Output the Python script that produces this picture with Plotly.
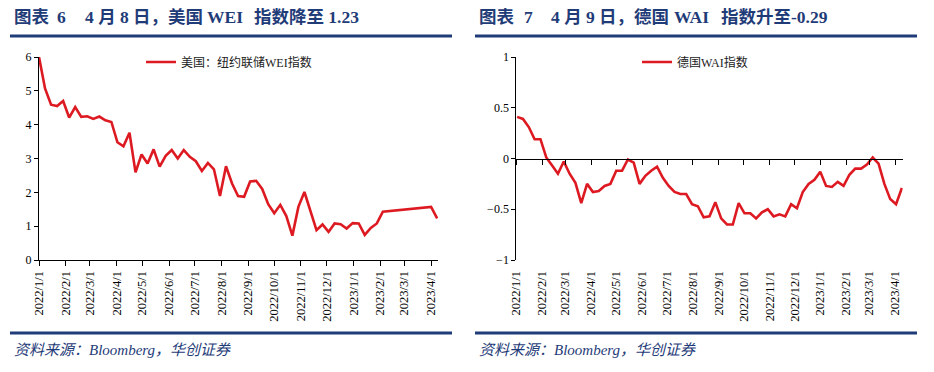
import plotly.graph_objects as go
import pandas as pd

# ---- data ----
us_dates = pd.date_range('2022-01-01', '2023-02-04', freq='7D').strftime('%Y-%m-%d').tolist() + ['2023-04-01', '2023-04-08']
us_wei = [6.0, 5.07, 4.59, 4.55, 4.70, 4.21, 4.52, 4.23, 4.25, 4.17, 4.24, 4.13, 4.08, 3.48, 3.36, 3.76,
          2.59, 3.12, 2.85, 3.27, 2.76, 3.08, 3.25, 3.00, 3.25, 3.05, 2.92, 2.63, 2.87, 2.68, 1.89, 2.77,
          2.26, 1.89, 1.87, 2.32, 2.34, 2.10, 1.65, 1.38, 1.63, 1.30, 0.72, 1.57, 2.01, 1.43, 0.88, 1.05,
          0.83, 1.08, 1.06, 0.93, 1.09, 1.08, 0.74, 0.95, 1.08, 1.43, 1.57, 1.23]

de_dates = pd.date_range('2022-01-02', '2023-04-09', freq='7D').strftime('%Y-%m-%d').tolist()
de_wai = [0.41, 0.39, 0.31, 0.19, 0.19, 0.01, -0.07, -0.15, -0.03, -0.15, -0.24, -0.44, -0.25, -0.33,
          -0.32, -0.27, -0.25, -0.12, -0.12, -0.01, -0.04, -0.25, -0.17, -0.12, -0.08, -0.19, -0.27,
          -0.33, -0.35, -0.35, -0.45, -0.47, -0.58, -0.57, -0.43, -0.59, -0.65, -0.65, -0.44, -0.54,
          -0.54, -0.59, -0.53, -0.50, -0.57, -0.55, -0.57, -0.45, -0.49, -0.33, -0.25, -0.21, -0.13,
          -0.27, -0.28, -0.23, -0.27, -0.16, -0.10, -0.10, -0.06, 0.01, -0.05, -0.25, -0.40, -0.45, -0.29]

tick_dates = pd.date_range('2022-01-01', '2023-04-01', freq='MS')
tick_vals = tick_dates.strftime('%Y-%m-%d').tolist()
tick_text = [f"{d.year}/{d.month}/{d.day}" for d in tick_dates]

# title pieces (text, left x in px)
title_left_parts = [("图表", 12), ("6", 55), ("4 月 8 日，美国", 83), ("WEI", 205), ("指数降至 1.23", 252)]
title_right_parts = [("图表", 477), ("7", 522), ("4 月 9 日，德国", 549), ("WAI", 672), ("指数升至-0.29", 719)]
source_text = "资料来源：Bloomberg，华创证券"
name_us = "美国：纽约联储WEI指数"
name_de = "德国WAI指数"

# ---- style ----
W, H = 934, 372
RED = "#DD1A22"
NAVY = "#1F3C78"
FONT = "Liberation Serif, Noto Sans CJK SC, serif"

def px_x(x):
    return x / W

def px_y(y):
    return 1 - y / H

fig = go.Figure()
fig.add_trace(go.Scatter(x=us_dates, y=us_wei, mode='lines', name=name_us,
                         line=dict(color=RED, width=2.6), xaxis='x', yaxis='y', legend='legend'))
fig.add_trace(go.Scatter(x=de_dates, y=de_wai, mode='lines', name=name_de,
                         line=dict(color=RED, width=2.6), xaxis='x2', yaxis='y2', legend='legend2'))
# invisible carrier for the zero-level axis of the right panel
fig.add_trace(go.Scatter(x=de_dates, y=de_wai, mode='lines', showlegend=False, hoverinfo='skip',
                         line=dict(color='rgba(0,0,0,0)', width=0), xaxis='x3', yaxis='y2'))

ydom = [px_y(260), px_y(57)]
left_dom = [px_x(39), px_x(438)]
right_dom = [px_x(516.3), px_x(902.7)]

tickfont = dict(family=FONT, size=12, color='black')
xtickfont = dict(family=FONT, size=12.5, color='black')

fig.update_layout(
    width=W, height=H, margin=dict(l=0, r=0, t=0, b=0, autoexpand=False),
    paper_bgcolor='white', plot_bgcolor='white',
    font=dict(family=FONT),
    xaxis=dict(domain=left_dom, anchor='y', type='date', range=['2022-01-01', '2023-04-09'],
               tickvals=tick_vals, ticktext=tick_text, tickangle=-90, tickfont=xtickfont,
               showline=True, linecolor='black', linewidth=1, ticks='outside', ticklen=5,
               tickcolor='black', showgrid=False, zeroline=False, automargin=False),
    yaxis=dict(domain=ydom, anchor='x', range=[0, 6], dtick=1, tickfont=tickfont,
               showline=True, linecolor='black', linewidth=1, ticks='outside', ticklen=4,
               tickcolor='black', showgrid=False, zeroline=False, automargin=False),
    xaxis2=dict(domain=right_dom, anchor='y2', type='date', range=['2022-01-01', '2023-04-10'],
                tickvals=tick_vals, ticktext=tick_text, tickangle=-90, tickfont=xtickfont,
                showline=False, ticks='outside', ticklen=5, tickcolor='rgba(0,0,0,0)',
                showgrid=False, zeroline=False, automargin=False),
    xaxis3=dict(overlaying='x2', anchor='free', position=(ydom[0] + ydom[1]) / 2, type='date',
                range=['2022-01-01', '2023-04-10'], tickvals=tick_vals, showticklabels=False,
                showline=True, linecolor='black', linewidth=1, ticks='outside', ticklen=5,
                tickcolor='black', showgrid=False, zeroline=False, automargin=False),
    yaxis2=dict(domain=ydom, anchor='x2', range=[-1, 1], dtick=0.5, tickfont=tickfont,
                showline=True, linecolor='black', linewidth=1, ticks='outside', ticklen=4,
                tickcolor='black', showgrid=False, zeroline=False, automargin=False),
    legend=dict(x=px_x(141), y=px_y(62), xanchor='left', yanchor='middle', bgcolor='rgba(0,0,0,0)',
                font=dict(family=FONT, size=12, color='#222222')),
    legend2=dict(x=px_x(637), y=px_y(62), xanchor='left', yanchor='middle', bgcolor='rgba(0,0,0,0)',
                 font=dict(family=FONT, size=12, color='#222222')),
    showlegend=True,
)

annotations = []
for text, xs in title_left_parts + title_right_parts:
    annotations.append(dict(text="<b>" + text + "</b>", x=px_x(xs), y=px_y(17.5),
                            xanchor='left', yanchor='middle', xref='paper', yref='paper',
                            showarrow=False, font=dict(family=FONT, size=17.5, color=NAVY)))
for xs in (12, 477):
    annotations.append(dict(text="<i>" + source_text + "</i>", x=px_x(xs), y=px_y(350),
                            xanchor='left', yanchor='middle', xref='paper', yref='paper',
                            showarrow=False, font=dict(family=FONT, size=15, color=NAVY)))
fig.update_layout(annotations=annotations)

shapes = []
for x0, x1 in ((10, 452), (475, 917)):
    for yy in (36, 333):
        shapes.append(dict(type='line', xref='paper', yref='paper', x0=px_x(x0), x1=px_x(x1),
                           y0=px_y(yy), y1=px_y(yy), line=dict(color=NAVY, width=3)))
fig.update_layout(shapes=shapes)

fig.write_html("out.html", config={'displayModeBar': False},
               post_script="document.body.style.margin='0';document.body.style.padding='0';")
